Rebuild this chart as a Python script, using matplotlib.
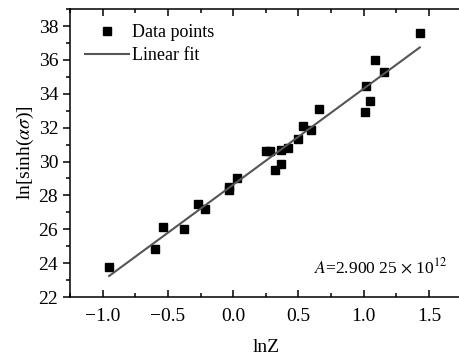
import numpy as np
import matplotlib
matplotlib.use('Agg')
import matplotlib.pyplot as plt
from matplotlib.ticker import MultipleLocator

plt.rcParams['font.family'] = ['Liberation Serif', 'DejaVu Serif']
plt.rcParams['mathtext.fontset'] = 'stix'

# ln Z vs ln[sinh(alpha*sigma)]
ln_z = [-0.954, -0.60, -0.54, -0.379, -0.27, -0.218, -0.034, -0.03, 0.03,
        0.25, 0.28, 0.32, 0.37, 0.37, 0.42, 0.50, 0.535, 0.595, 0.66,
        1.01, 1.045, 1.017, 1.09, 1.155, 1.43]
ln_sinh = [23.75, 24.85, 26.15, 26.02, 27.5, 27.2, 28.5, 28.3, 29.0,
           30.65, 30.65, 29.5, 29.85, 30.7, 30.8, 31.35, 32.1, 31.85, 33.08,
           32.95, 33.6, 34.45, 35.98, 35.27, 37.6]
fit_slope = 5.67
fit_intercept = 28.63
fit_range = (-0.95, 1.43)

fig = plt.figure(figsize=(4.59, 3.63), dpi=100)
ax = fig.add_axes([0.1525, 0.1818, 0.853, 0.793])

ax.plot(ln_z, ln_sinh, 's', color='black', ms=6.3, label='Data points')
xf = np.array(fit_range)
ax.plot(xf, fit_slope * xf + fit_intercept, '-', color='#555555', lw=1.5,
        label='Linear fit')

ax.set_xlim(-1.25, 1.75)
ax.set_ylim(22, 39)
ax.xaxis.set_major_locator(MultipleLocator(0.5))
ax.xaxis.set_minor_locator(MultipleLocator(0.25))
ax.yaxis.set_major_locator(MultipleLocator(2))
ax.yaxis.set_minor_locator(MultipleLocator(1))
ax.set_xticks([-1.0, -0.5, 0.0, 0.5, 1.0, 1.5])
ax.set_xticklabels(['\u22121.0', '\u22120.5', '0.0', '0.5', '1.0', '1.5'])

ax.spines['right'].set_visible(False)
for s in ['top', 'left', 'bottom']:
    ax.spines[s].set_linewidth(1.1)

ax.tick_params(axis='y', which='major', direction='out', length=5, width=1.1,
               labelsize=14)
ax.tick_params(axis='y', which='minor', direction='out', length=3, width=1.1)
ax.tick_params(axis='x', which='major', direction='in', length=5, width=1.1,
               labelsize=14, top=True, pad=8)
ax.tick_params(axis='x', which='minor', direction='in', length=3, width=1.1,
               top=True)

ax.set_xlabel('lnZ', fontsize=14, labelpad=10)
ax.set_ylabel(r'ln[sinh($\alpha\sigma$)]', fontsize=14, labelpad=2)

ax.text(0.963, 0.104, r'$A$=2.900 25 $\times$ 10$^{12}$', transform=ax.transAxes,
        ha='right', va='center', fontsize=12.5)

leg = ax.legend(loc='upper left', frameon=False, fontsize=13, handlelength=2.4,
                borderaxespad=0.45, handletextpad=0.2, labelspacing=0.3,
                borderpad=0.4)

plt.savefig('out.png', dpi=100)
